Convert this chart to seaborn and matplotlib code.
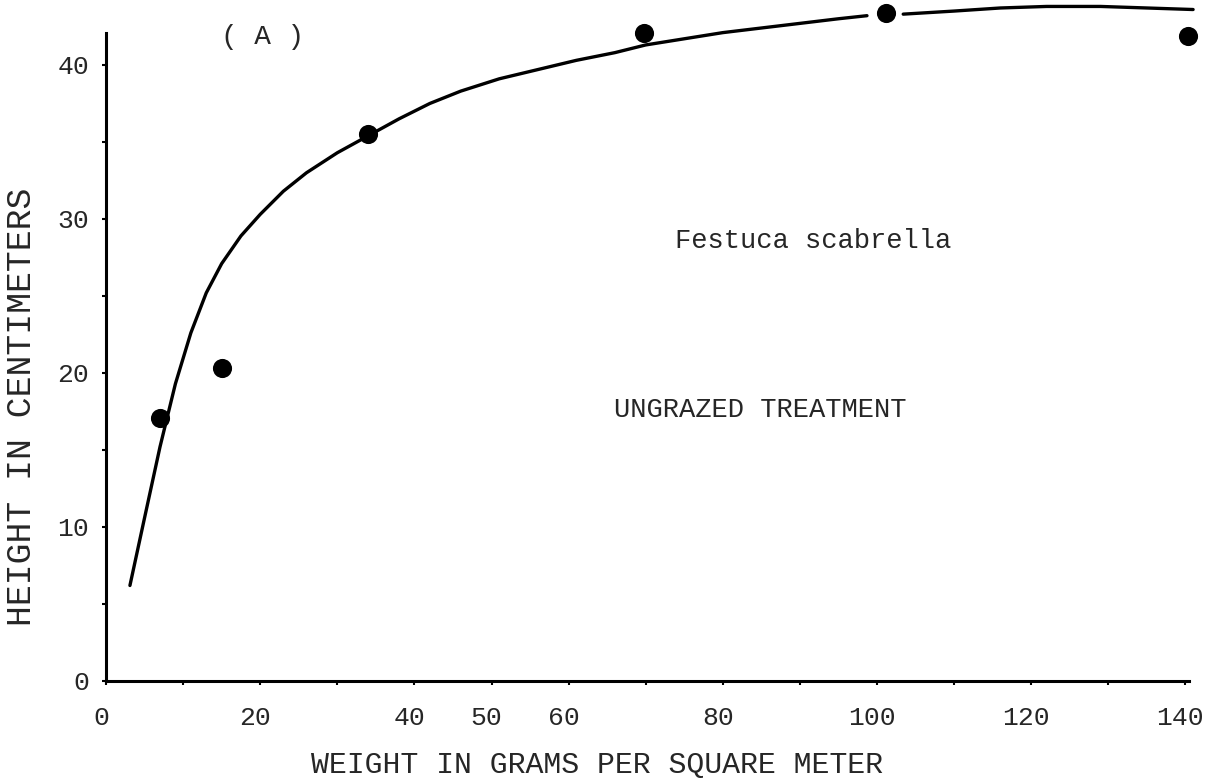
import matplotlib
matplotlib.use("Agg")
import matplotlib.pyplot as plt
import matplotlib.transforms as mtransforms
import seaborn as sns
import pandas as pd
from matplotlib.ticker import MultipleLocator, FixedLocator

# ---- data ----
point_weight = [7.0, 15.0, 34.0, 69.8, 101.2, 140.3]
point_height = [17.1, 20.3, 35.5, 42.1, 43.4, 41.9]

curve_weight = [3.1, 5.0, 7.0, 9.0, 11.0, 13.0, 15.0, 17.5, 20.0, 23.0, 26.0,
                30.0, 34.0, 38.0, 42.0, 46.0, 51.0, 56.0, 61.0, 66.0, 70.0,
                75.0, 80.0, 85.0, 90.0, 95.0, 98.7,
                103.4, 110.0, 116.0, 122.0, 129.0, 135.0, 141.0]
curve_height = [6.2, 10.6, 15.2, 19.3, 22.6, 25.2, 27.1, 28.9, 30.3, 31.8, 33.0,
                34.3, 35.4, 36.5, 37.5, 38.3, 39.1, 39.7, 40.3, 40.8, 41.3,
                41.7, 42.1, 42.4, 42.7, 43.0, 43.2,
                43.3, 43.5, 43.7, 43.8, 43.8, 43.7, 43.6]
curve_segment = [1] * 27 + [2] * 7

x_tick_labels = [0, 20, 40, 50, 60, 80, 100, 120, 140]
y_tick_labels = [0, 10, 20, 30, 40]

sns.set_style("white")
plt.rcParams["font.family"] = ["Liberation Mono", "DejaVu Sans Mono"]

fig = plt.figure(figsize=(12.09, 7.82), dpi=100)
ax = fig.add_axes([0.0877, 0.1292, 0.9119, 0.8665])

curve = pd.DataFrame({"w": curve_weight, "h": curve_height, "seg": curve_segment})
sns.lineplot(data=curve, x="w", y="h", units="seg", estimator=None, sort=False,
             color="black", linewidth=2.4, ax=ax, legend=False)
sns.scatterplot(x=point_weight, y=point_height, color="black", s=190,
                edgecolor="black", linewidth=0, ax=ax, zorder=5, clip_on=False)

ax.set_xlim(0, 143)
ax.set_ylim(0, 44)

for s in ["top", "right"]:
    ax.spines[s].set_visible(False)
ax.spines["left"].set_bounds(0, 42.1)
ax.spines["bottom"].set_bounds(0, 140.5)
for s in ["left", "bottom"]:
    ax.spines[s].set_linewidth(2.2)
    ax.spines[s].set_color("black")

ax.xaxis.set_major_locator(FixedLocator(x_tick_labels))
ax.xaxis.set_minor_locator(MultipleLocator(10))
ax.yaxis.set_major_locator(FixedLocator(y_tick_labels))
ax.yaxis.set_minor_locator(MultipleLocator(5))

ax.tick_params(axis="x", which="both", direction="out", length=3, width=1.5,
               color="black", labelsize=19, pad=15, bottom=True)
ax.tick_params(axis="y", which="both", direction="out", length=3, width=1.5,
               color="black", labelsize=19, pad=9, left=True)

shift = mtransforms.ScaledTranslation(-5 / 100, 0, fig.dpi_scale_trans)
for lbl in ax.get_xticklabels():
    lbl.set_transform(lbl.get_transform() + shift)

ax.set_xlabel("WEIGHT IN GRAMS PER SQUARE METER", fontsize=21.5)
ax.xaxis.set_label_coords(0.445, -0.103)
ax.set_ylabel("HEIGHT IN CENTIMETERS", fontsize=25)
ax.yaxis.set_label_coords(-0.062, 0.405)

ax.text(20.3, 41.8, "( A )", fontsize=20, ha="center", va="center")
ax.text(91.7, 28.6, "Festuca scabrella", fontsize=19.5, ha="center", va="center")
ax.text(84.8, 17.6, "UNGRAZED TREATMENT", fontsize=19.5, ha="center", va="center")

fig.savefig("out.png", dpi=100, facecolor="white")
